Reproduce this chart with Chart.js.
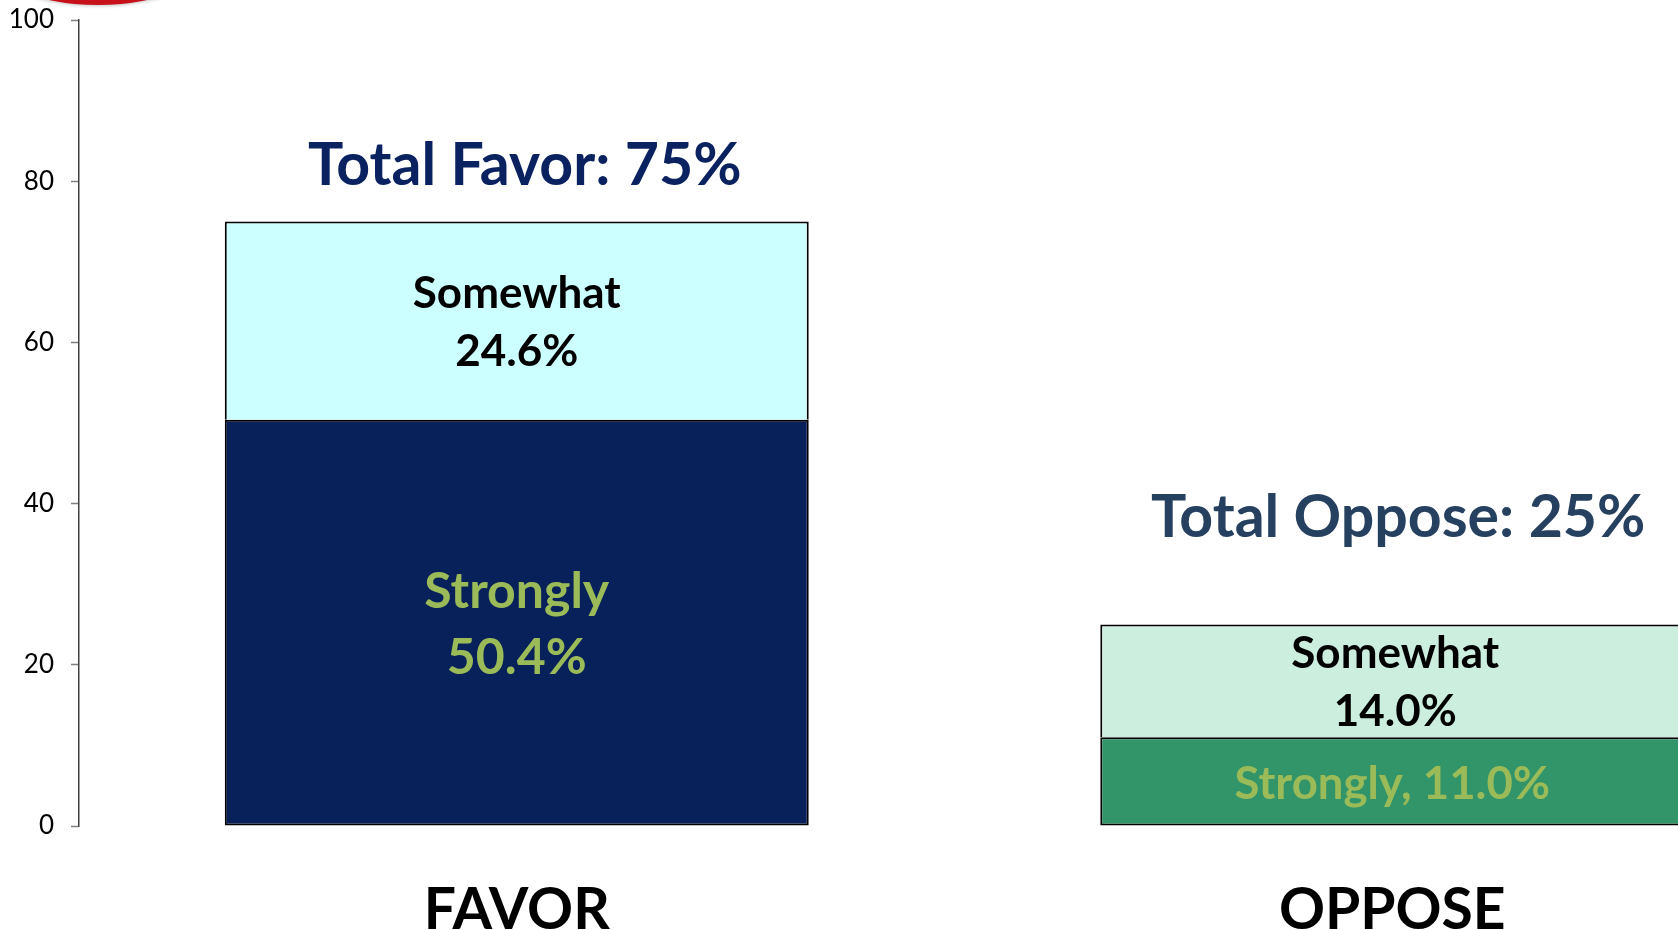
<!DOCTYPE html>
<html>
<head>
<meta charset="utf-8">
<title>Favor / Oppose</title>
<script src="https://cdn.jsdelivr.net/npm/chart.js@4.4.1/dist/chart.umd.min.js"></script>
<style>
	html, body { margin: 0; padding: 0; background: #fff; overflow: hidden; }
	#wrap { position: absolute; left: 0; top: 0; width: 1830px; height: 960px; }
</style>
</head>
<body>
<div id="wrap"><canvas id="poll-chartcanvas"></canvas></div>
<script>
"use strict";

// data
const categories = ["FAVOR", "OPPOSE"];
const strongly = [50.4, 11.0];
const somewhat = [24.6, 14.0];
const totals = ["Total Favor: 75%", "Total Oppose: 25%"];
const stronglyText = [["Strongly", "50.4%"], ["Strongly, 11.0%"]];
const somewhatText = [["Somewhat", "24.6%"], ["Somewhat", "14.0%"]];
const yTicks = [0, 20, 40, 60, 80, 100];

const fontName = "Lato, 'Open Sans', sans-serif";

// text inside / above the bars, placed from the bar elements
const barText = {
	id : "barText",
	afterDatasetsDraw : function(chart) {
		let ctx = chart.ctx;
		let strongMeta = chart.getDatasetMeta(0);
		let someMeta = chart.getDatasetMeta(1);
		ctx.save();
		ctx.textAlign = "center";
		ctx.textBaseline = "middle";

		function lines(list, x, yMid, size, gap, color) {
			ctx.font = "bold " + size + "px " + fontName;
			ctx.fillStyle = color;
			let start = yMid - (list.length - 1) * gap / 2;
			for (let i = 0; i < list.length; i++) {
				ctx.fillText(list[i], x, start + i * gap);
			}
		}

		// favor
		let b = strongMeta.data[0];
		lines(stronglyText[0], b.x, (b.y + b.base) / 2 + 2, 50, 66, "#9bbb59");
		b = someMeta.data[0];
		lines(somewhatText[0], b.x, (b.y + b.base) / 2 + 2, 44, 58, "#000");
		ctx.font = "bold 59px " + fontName;
		ctx.fillStyle = "#0b2260";
		ctx.fillText(totals[0], b.x + 8, b.y - 56);

		// oppose
		b = strongMeta.data[1];
		lines(stronglyText[1], b.x, (b.y + b.base) / 2 + 3, 45.5, 0, "#9bbb59");
		b = someMeta.data[1];
		lines(somewhatText[1], b.x + 3, (b.y + b.base) / 2 + 2, 44, 58, "#000");
		ctx.font = "bold 59px " + fontName;
		ctx.fillStyle = "#26405f";
		ctx.fillText(totals[1], b.x + 6, b.y - 107);

		ctx.restore();
	}
};

// red badge cut off at the top left corner
const badge = {
	id : "badge",
	afterDraw : function(chart) {
		let ctx = chart.ctx;
		ctx.save();
		ctx.shadowColor = "rgba(0,0,0,0.35)";
		ctx.shadowBlur = 4;
		ctx.fillStyle = "#c8101a";
		ctx.beginPath();
		ctx.arc(98, -235, 240, 0, Math.PI * 2);
		ctx.fill();
		ctx.restore();
	}
};

let pollCtx = document.getElementById("poll-chartcanvas");

let pollData = {
	labels : categories,
	datasets : [
		{
			label : "Strongly",
			data : strongly,
			backgroundColor : ["#08215a", "#32956a"],
			borderColor : "#000",
			borderWidth : 2,
			borderSkipped : false
		},
		{
			label : "Somewhat",
			data : somewhat,
			backgroundColor : ["#ccffff", "#cceedf"],
			borderColor : "#000",
			borderWidth : { top : 2, left : 2, right : 2, bottom : 0 },
			borderSkipped : "start"
		}
	]
};

let pollOptions = {
	responsive : true,
	maintainAspectRatio : false,
	animation : false,
	layout : {
		padding : { top : 20, left : 11, right : 0, bottom : 19 }
	},
	plugins : {
		legend : { display : false },
		tooltip : { enabled : false }
	},
	scales : {
		x : {
			stacked : true,
			grid : { display : false, drawTicks : false },
			border : { display : false },
			afterFit : function(axis) { axis.height = 115; },
			ticks : {
				color : "#000",
				padding : 50,
				font : { family : fontName, size : 57, weight : "bold" }
			}
		},
		y : {
			stacked : true,
			min : 0,
			max : 100,
			afterBuildTicks : function(axis) {
				axis.ticks = yTicks.map(function(v) { return { value : v }; });
			},
			afterFit : function(axis) {
				axis.width = 68;
				axis.paddingTop = 0;
				axis.paddingBottom = 0;
			},
			grid : {
				drawOnChartArea : false,
				drawTicks : true,
				tickLength : 8,
				tickWidth : 1.5,
				color : "#7f7f7f"
			},
			border : { display : true, color : "#404040", width : 1.5 },
			ticks : {
				color : "#000",
				padding : 17,
				font : { family : fontName, size : 26 }
			}
		}
	},
	datasets : {
		bar : { categoryPercentage : 1, barPercentage : 0.667 }
	}
};

let pollChart = new Chart(pollCtx, {
	type : "bar",
	data : pollData,
	options : pollOptions,
	plugins : [barText, badge]
});
</script>
</body>
</html>
